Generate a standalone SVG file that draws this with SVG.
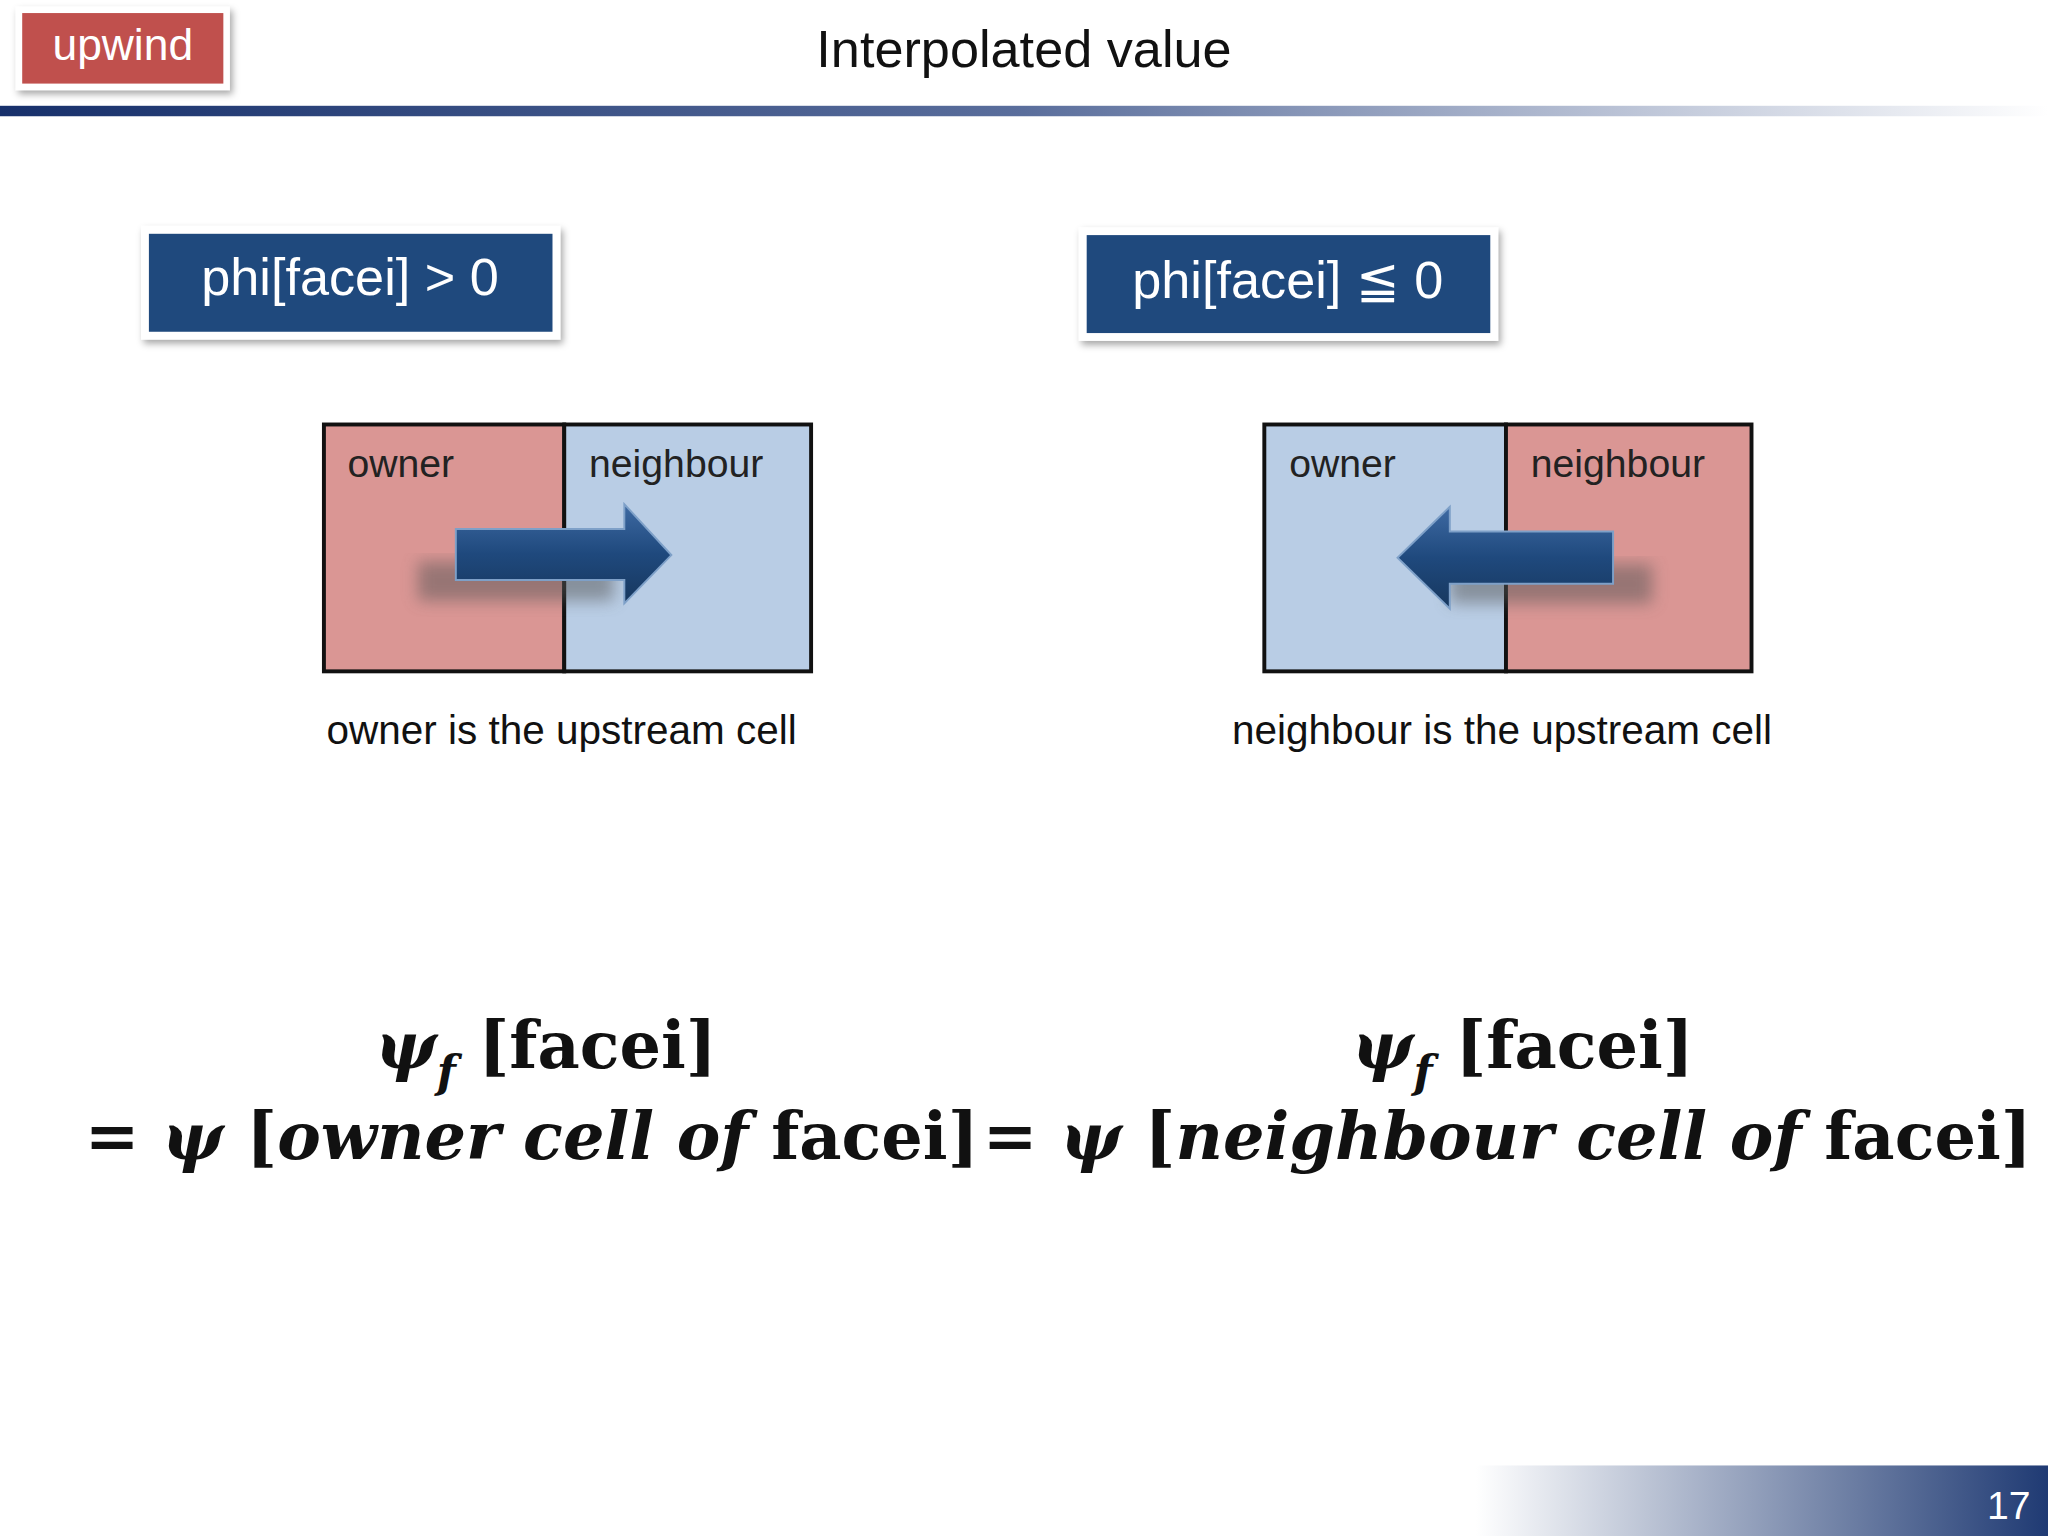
<svg xmlns="http://www.w3.org/2000/svg" width="2048" height="1536" viewBox="0 0 2048 1536">
<defs>
<linearGradient id="hl" x1="0" x2="1"><stop offset="0" stop-color="#17306b"/><stop offset="0.5" stop-color="#5a6e9c"/><stop offset="1" stop-color="#ffffff"/></linearGradient>
<linearGradient id="fl" x1="0" x2="1"><stop offset="0" stop-color="#ffffff"/><stop offset="1" stop-color="#1f3a73"/></linearGradient>
<linearGradient id="ar" x1="0" y1="0" x2="0" y2="1"><stop offset="0" stop-color="#3e6aa3"/><stop offset="0.5" stop-color="#1f497d"/><stop offset="1" stop-color="#17375e"/></linearGradient>
<filter id="sh" x="-20%" y="-20%" width="140%" height="160%"><feGaussianBlur stdDeviation="6"/></filter>
<filter id="bs" x="-10%" y="-10%" width="130%" height="140%"><feDropShadow dx="2" dy="3" stdDeviation="3" flood-opacity="0.35"/></filter>
</defs>
<style>
text{font-family:"Liberation Sans",Verdana,sans-serif}
.lbl{font-size:30px;fill:#222}
.cap{font-size:31px;fill:#111;text-anchor:middle}
.btn{font-size:40px;fill:#fff;text-anchor:middle}
.eq{font-family:"DejaVu Serif","Liberation Serif",serif;font-size:50px;font-weight:bold;fill:#111;text-anchor:middle}
.cell{stroke:#111;stroke-width:3}
</style>
<g transform="scale(1.30612)">
<g id="header">
<rect x="0" y="81" width="1568" height="8" fill="url(#hl)"/>
<rect x="12" y="5" width="164" height="64" fill="#fff" filter="url(#bs)"/>
<rect x="17" y="10" width="154" height="54" fill="#c0504d"/>
<text x="94" y="46" font-size="34" fill="#fff" text-anchor="middle">upwind</text>
<text x="784" y="51" font-size="40" fill="#111" text-anchor="middle">Interpolated value</text>
</g>
<g id="cond1">
<rect x="108" y="173" width="321" height="87" fill="#fff" filter="url(#bs)"/>
<rect x="114" y="179" width="309" height="75" fill="#1f497d"/>
<text class="btn" x="268" y="226">phi[facei] &gt; 0</text>
</g>
<g id="cond2">
<rect x="826" y="174" width="321" height="87" fill="#fff" filter="url(#bs)"/>
<rect x="832" y="180" width="309" height="75" fill="#1f497d"/>
<text class="btn" x="986" y="228">phi[facei] ≦ 0</text>
</g>
<g id="cells1">
<rect class="cell" x="248" y="325" width="184" height="189" fill="#da9694"/>
<rect class="cell" x="432" y="325" width="189" height="189" fill="#b9cde5"/>
<text class="lbl" x="266" y="365">owner</text>
<text class="lbl" x="451" y="365">neighbour</text>
<rect x="320" y="430" width="150" height="30" fill="#555" opacity="0.5" filter="url(#sh)"/>
<polygon points="349,405 478,405 478,386 514,425 478,462 478,444 349,444" fill="url(#ar)" stroke="#7ea0c8" stroke-width="1.5"/>
<text class="cap" x="430" y="570">owner is the upstream cell</text>
</g>
<g id="cells2">
<rect class="cell" x="968" y="325" width="185" height="189" fill="#b9cde5"/>
<rect class="cell" x="1153" y="325" width="188" height="189" fill="#da9694"/>
<text class="lbl" x="987" y="365">owner</text>
<text class="lbl" x="1172" y="365">neighbour</text>
<rect x="1110" y="432" width="155" height="30" fill="#555" opacity="0.5" filter="url(#sh)"/>
<polygon points="1235,407 1110,407 1110,388 1070,427 1110,466 1110,447 1235,447" fill="url(#ar)" stroke="#7ea0c8" stroke-width="1.5"/>
<text class="cap" x="1150" y="570">neighbour is the upstream cell</text>
</g>
<g id="eq1">
<text class="eq" x="418" y="818"><tspan font-style="italic">ψ</tspan><tspan font-style="italic" font-size="34" dy="14">f</tspan><tspan dy="-14"> [facei]</tspan></text>
<text class="eq" x="407" y="887">= <tspan font-style="italic">ψ</tspan> [<tspan font-style="italic">owner cell of</tspan> facei]</text>
</g>
<g id="eq2">
<text class="eq" x="1166" y="818"><tspan font-style="italic">ψ</tspan><tspan font-style="italic" font-size="34" dy="14">f</tspan><tspan dy="-14"> [facei]</tspan></text>
<text class="eq" x="1154" y="887">= <tspan font-style="italic">ψ</tspan> [<tspan font-style="italic">neighbour cell of</tspan> facei]</text>
</g>
<g id="footer">
<rect x="1130" y="1122" width="438" height="54" fill="url(#fl)"/>
<text x="1538" y="1163" font-size="30" fill="#fff" text-anchor="middle">17</text>
</g>
</g>
<g id="connectors"/>
</svg>
